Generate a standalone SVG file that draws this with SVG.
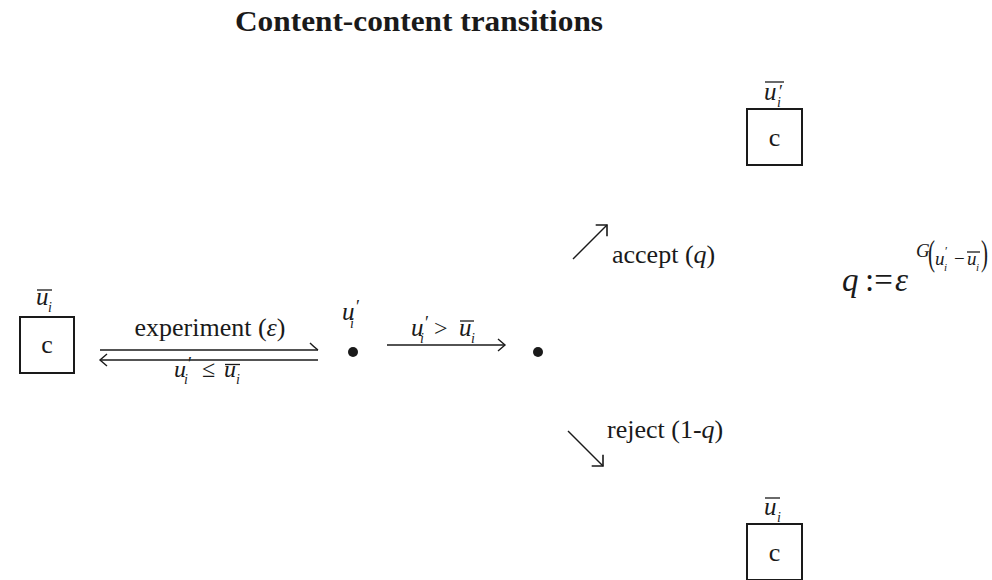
<svg xmlns="http://www.w3.org/2000/svg" width="992" height="580" viewBox="0 0 992 580">
<defs>
<style>
.t{font-family:"Liberation Serif","Times New Roman",serif;fill:#1a1a1a}
.m{font-family:"Liberation Serif","Times New Roman",serif;font-style:italic;fill:#1a1a1a}
.up{font-style:normal}
.box{fill:#fff;stroke:#1a1a1a;stroke-width:2}
.ln{stroke:#1a1a1a;stroke-width:1.4;fill:none}
.bar{stroke:#1a1a1a;stroke-width:1.3}
</style>
<marker id="ah" markerWidth="12" markerHeight="16" refX="8" refY="7" orient="auto" markerUnits="userSpaceOnUse">
<path d="M1,1 L8,7 L1,13" fill="none" stroke="#1a1a1a" stroke-width="1.4"/>
</marker>
<marker id="harp" markerWidth="12" markerHeight="16" refX="9" refY="8" orient="auto" markerUnits="userSpaceOnUse">
<path d="M1,1 Q5,5 9,8" fill="none" stroke="#1a1a1a" stroke-width="1.4"/>
</marker>
<marker id="sq" markerWidth="14" markerHeight="20" refX="9" refY="10" orient="auto" markerUnits="userSpaceOnUse">
<path d="M1,2 L9,10 L1,18" fill="none" stroke="#1a1a1a" stroke-width="1.6"/>
</marker>
</defs>
<rect width="992" height="580" fill="#fff"/>
<text class="t" x="235" y="31" font-size="30" font-weight="bold" textLength="368" lengthAdjust="spacingAndGlyphs">Content-content transitions</text>

<g id="node-left">
<rect class="box" x="20" y="317" width="54" height="56"/>
<text class="t" x="47" y="353" font-size="26" text-anchor="middle">c</text>
<text class="m" x="36" y="305" font-size="25">u<tspan font-size="14" x="48" y="312">i</tspan></text>
<line class="bar" x1="37" y1="290" x2="52" y2="290"/>
</g>

<g id="node-mid">
<circle cx="353" cy="352" r="5" fill="#1a1a1a"/>
<text class="m" x="342" y="320" font-size="25">u<tspan class="up" font-size="18" x="356" y="313">′</tspan><tspan font-size="14" x="350" y="328">i</tspan></text>
</g>

<g id="node-right">
<circle cx="538" cy="352" r="5" fill="#1a1a1a"/>
</g>

<g id="node-accept">
<rect class="box" x="747" y="109" width="55" height="56"/>
<text class="t" x="774.5" y="146" font-size="26" text-anchor="middle">c</text>
<text class="m" x="764" y="100" font-size="25">u<tspan class="up" font-size="18" x="779" y="98">′</tspan><tspan font-size="14" x="777" y="107">i</tspan></text>
<line class="bar" x1="765" y1="82" x2="784" y2="82"/>
</g>

<g id="node-reject">
<rect class="box" x="747" y="524" width="55" height="56"/>
<text class="t" x="774.5" y="561" font-size="26" text-anchor="middle">c</text>
<text class="m" x="764" y="515" font-size="25">u<tspan font-size="14" x="777" y="522">i</tspan></text>
<line class="bar" x1="765" y1="498" x2="780" y2="498"/>
</g>

<g id="connectors">
<line class="ln" x1="100" y1="350" x2="318" y2="350" marker-end="url(#harp)"/>
<line class="ln" x1="318" y1="360" x2="100" y2="360" marker-end="url(#ah)"/>
<text class="t" x="210" y="336" font-size="26" text-anchor="middle">experiment (<tspan class="m">ε</tspan>)</text>
<text class="m" x="174" y="377" font-size="24">u<tspan class="up" font-size="18" x="188" y="370">′</tspan><tspan font-size="14" x="184" y="384">i</tspan><tspan class="up" font-size="24" x="202" y="377">≤</tspan><tspan x="224" y="377">u</tspan><tspan font-size="14" x="236" y="384">i</tspan></text>
<line class="bar" x1="225" y1="364.5" x2="240" y2="364.5"/>

<line class="ln" x1="387" y1="345" x2="505" y2="345" marker-end="url(#ah)"/>
<text class="m" x="411" y="336" font-size="25">u<tspan class="up" font-size="18" x="425" y="329">′</tspan><tspan font-size="14" x="420" y="343">i</tspan><tspan class="up" font-size="24" x="434" y="336">&gt;</tspan><tspan x="459" y="336">u</tspan><tspan font-size="14" x="471" y="343">i</tspan></text>
<line class="bar" x1="460" y1="321" x2="474" y2="321"/>

<line class="ln" x1="573" y1="259" x2="607" y2="225" marker-end="url(#sq)"/>
<text class="t" x="612" y="263" font-size="26">accept (<tspan class="m">q</tspan>)</text>
<line class="ln" x1="568" y1="431" x2="603" y2="466" marker-end="url(#sq)"/>
<text class="t" x="607" y="438" font-size="26">reject (1-<tspan class="m">q</tspan>)</text>
</g>

<g id="formula">
<text class="m" x="842" y="291" font-size="33">q<tspan class="up" x="865">:=</tspan><tspan x="895">ε</tspan></text>
<text class="m" x="916" y="257" font-size="19">G</text>
<text class="t" x="928" y="265" font-size="28" transform="translate(928 265) scale(0.75 1.3) translate(-928 -265)">(</text>
<text class="m" x="935" y="265" font-size="19">u<tspan class="up" font-size="12" x="945" y="255">′</tspan><tspan font-size="11" x="944" y="271">i</tspan><tspan class="up" x="954" y="265">−</tspan><tspan x="967" y="265">u</tspan><tspan font-size="11" x="976" y="271">i</tspan></text>
<line class="bar" x1="967" y1="252" x2="980" y2="252"/>
<text class="t" x="981" y="265" font-size="28" transform="translate(981 265) scale(0.75 1.3) translate(-981 -265)">)</text>
</g>
</svg>
